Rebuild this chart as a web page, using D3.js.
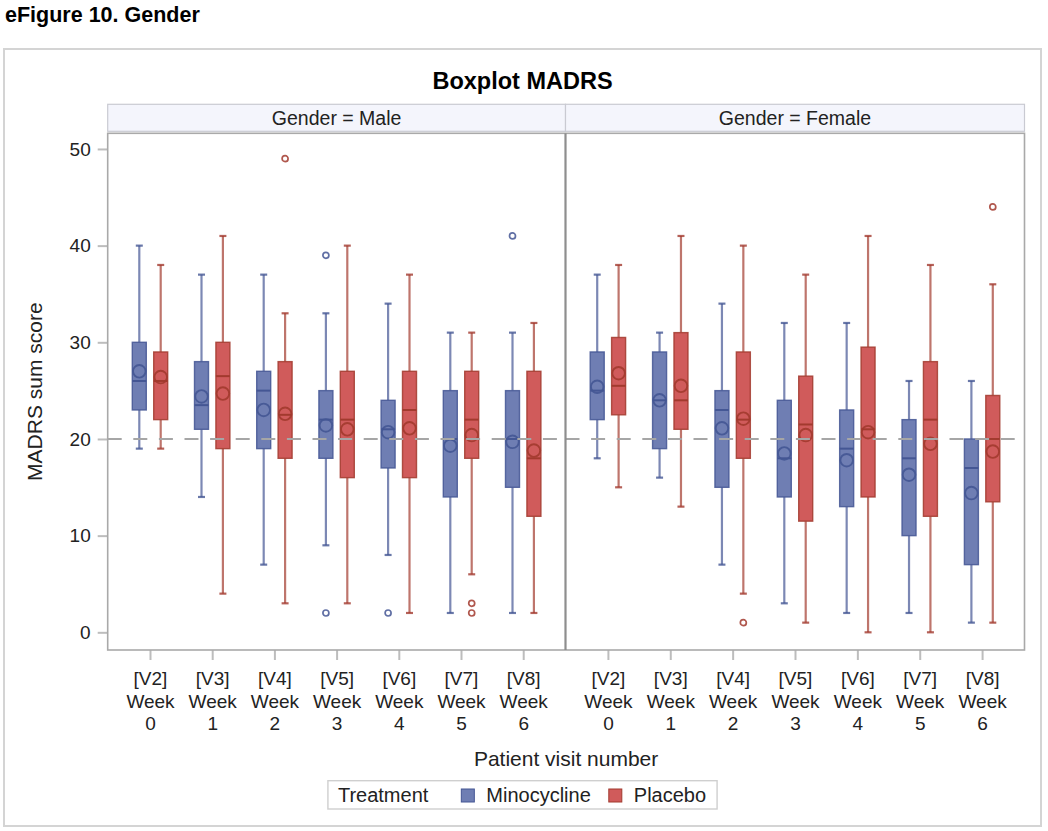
<!DOCTYPE html>
<html>
<head>
<meta charset="utf-8">
<script src="https://cdn.jsdelivr.net/npm/d3@7"></script>
<style>
  body { margin: 0; background: #fff; }
  text { font-family: "Liberation Sans", Arial, sans-serif; fill: #222; }
</style>
</head>
<body>
<svg id="chart" width="1048" height="831"></svg>
<script>
  // visits on the x axis (three label lines each)
  const visitCodes = ['[V2]', '[V3]', '[V4]', '[V5]', '[V6]', '[V7]', '[V8]'];
  const weekNumbers = ['0', '1', '2', '3', '4', '5', '6'];
  const genders = ['Male', 'Female'];
  const treatments = ['Minocycline', 'Placebo'];
  const yTicks = [0, 10, 20, 30, 40, 50];
  const refValue = 20;

  // one row per visit: [whisker low, Q1, median, Q3, whisker high, mean]
  const maleMinocycline = [
    [19, 23, 26, 30, 40, 27.0],
    [14, 21, 23.5, 28, 37, 24.4],
    [7, 19, 25, 27, 37, 23.0],
    [9, 18, 22, 25, 33, 21.4],
    [8, 17, 21, 24, 34, 20.7],
    [2, 14, 20, 25, 31, 19.3],
    [2, 15, 20, 25, 31, 19.7]
  ];
  const malePlacebo = [
    [19, 22, 26, 29, 38, 26.4],
    [4, 19, 26.5, 30, 41, 24.7],
    [3, 18, 22.5, 28, 33, 22.6],
    [3, 16, 22, 27, 40, 21.0],
    [2, 16, 23, 27, 37, 21.1],
    [6, 18, 22, 27, 31, 20.4],
    [2, 12, 18, 27, 32, 18.8]
  ];
  const femaleMinocycline = [
    [18, 22, 25, 29, 37, 25.4],
    [16, 19, 24, 29, 31, 24.0],
    [7, 15, 23, 25, 34, 21.1],
    [3, 14, 18, 24, 32, 18.5],
    [2, 13, 19, 23, 32, 17.8],
    [2, 10, 18, 22, 26, 16.3],
    [1, 7, 17, 20, 26, 14.4]
  ];
  const femalePlacebo = [
    [15, 22.5, 25.5, 30.5, 38, 26.8],
    [13, 21, 24, 31, 41, 25.5],
    [4, 18, 22, 29, 40, 22.1],
    [1, 11.5, 21.5, 26.5, 37, 20.4],
    [0, 14, 21, 29.5, 41, 20.7],
    [0, 12, 22, 28, 38, 19.5],
    [1, 13.5, 20, 24.5, 36, 18.7]
  ];

  // outliers per visit
  const maleMinocyclineOutliers = [[], [], [], [39, 2], [2], [], [41]];
  const malePlaceboOutliers = [[], [], [49], [], [], [3, 2], []];
  const femaleMinocyclineOutliers = [[], [], [], [], [], [], []];
  const femalePlaceboOutliers = [[], [], [1], [], [], [], [44]];

  const fillColors = ['#6F7EB3', '#D05B5B'];
  const lineColors = ['#445694', '#A23A2E'];

  const panels = [
    { gender: 'Male', series: [
      { stats: maleMinocycline, outliers: maleMinocyclineOutliers },
      { stats: malePlacebo, outliers: malePlaceboOutliers }
    ] },
    { gender: 'Female', series: [
      { stats: femaleMinocycline, outliers: femaleMinocyclineOutliers },
      { stats: femalePlacebo, outliers: femalePlaceboOutliers }
    ] }
  ];

  const svg = d3.select('#chart');

  // layout
  const plotLeft = 107.7, plotRight = 1024.5, divider = 565.5;
  const plotTop = 133.3, plotBottom = 650;
  const stripTop = 104.3;
  const frame = { x: 4, y: 49, w: 1037, h: 777 };
  const frameMid = frame.x + frame.w / 2;

  const panelRanges = [[plotLeft, divider], [divider, plotRight]];

  const y = d3.scaleLinear()
    .domain([-1.83, 51.62])
    .range([plotBottom, plotTop]);

  const offset = d3.scalePoint()
    .domain(treatments)
    .range([-10.7, 10.7]);

  const boxW = 14, capW = 7;

  // outer frame
  svg.append('rect')
    .attr('x', frame.x).attr('y', frame.y)
    .attr('width', frame.w).attr('height', frame.h)
    .attr('fill', '#fff').attr('stroke', '#d4d4d4').attr('stroke-width', 2);

  svg.append('text')
    .attr('x', 5).attr('y', 22)
    .style('font-weight', 'bold').style('font-size', '21.5px')
    .style('fill', '#000')
    .text('eFigure 10. Gender');

  svg.append('text')
    .attr('x', frameMid).attr('y', 89)
    .attr('text-anchor', 'middle')
    .style('font-weight', 'bold').style('font-size', '23.5px')
    .style('fill', '#000')
    .text('Boxplot MADRS');

  panels.forEach((panel, pi) => {
    const [x0, x1] = panelRanges[pi];
    const x = d3.scalePoint()
      .domain(visitCodes)
      .range([x0, x1])
      .padding(0.68);

    // strip header
    svg.append('rect')
      .attr('x', x0).attr('y', stripTop)
      .attr('width', x1 - x0).attr('height', plotTop - stripTop - 2)
      .attr('fill', '#F4F5FC').attr('stroke', '#c9cad2').attr('stroke-width', 1.2);
    svg.append('text')
      .attr('x', (x0 + x1) / 2).attr('y', 125)
      .attr('text-anchor', 'middle')
      .style('font-size', '19.5px')
      .text(`Gender = ${panel.gender}`);

    const g = svg.append('g');

    panel.series.forEach((s, si) => {
      const fill = fillColors[si], line = lineColors[si];
      const dx = offset(treatments[si]);

      const box = g.selectAll(null)
        .data(s.stats.map((d, i) => ({ visit: visitCodes[i], lo: d[0], q1: d[1], med: d[2], q3: d[3], hi: d[4], mean: d[5], out: s.outliers[i] })))
        .join('g')
        .attr('transform', d => `translate(${x(d.visit) + dx},0)`);

      // whiskers
      box.append('line')
        .attr('x1', 0).attr('x2', 0)
        .attr('y1', d => y(d.hi)).attr('y2', d => y(d.q3))
        .attr('stroke', line).attr('stroke-opacity', 0.7).attr('stroke-width', 2.2);
      box.append('line')
        .attr('x1', 0).attr('x2', 0)
        .attr('y1', d => y(d.q1)).attr('y2', d => y(d.lo))
        .attr('stroke', line).attr('stroke-opacity', 0.7).attr('stroke-width', 2.2);
      box.append('line')
        .attr('x1', -capW / 2).attr('x2', capW / 2)
        .attr('y1', d => y(d.hi)).attr('y2', d => y(d.hi))
        .attr('stroke', line).attr('stroke-opacity', 0.8).attr('stroke-width', 2.2);
      box.append('line')
        .attr('x1', -capW / 2).attr('x2', capW / 2)
        .attr('y1', d => y(d.lo)).attr('y2', d => y(d.lo))
        .attr('stroke', line).attr('stroke-opacity', 0.8).attr('stroke-width', 2.2);

      // box
      box.append('rect')
        .attr('x', -boxW / 2).attr('width', boxW)
        .attr('y', d => y(d.q3))
        .attr('height', d => y(d.q1) - y(d.q3))
        .attr('fill', fill)
        .attr('stroke', line).attr('stroke-opacity', 0.85).attr('stroke-width', 1.4);

      // median
      box.append('line')
        .attr('x1', -boxW / 2).attr('x2', boxW / 2)
        .attr('y1', d => y(d.med)).attr('y2', d => y(d.med))
        .attr('stroke', line).attr('stroke-width', 2);

      // mean
      box.append('circle')
        .attr('cx', 0).attr('cy', d => y(d.mean))
        .attr('r', 6.3)
        .attr('fill', 'none')
        .attr('stroke', line).attr('stroke-opacity', 0.9).attr('stroke-width', 1.9);

      // outliers
      box.selectAll('.outlier')
        .data(d => d.out)
        .join('circle')
        .attr('class', 'outlier')
        .attr('cx', 0).attr('cy', v => y(v))
        .attr('r', 3)
        .attr('fill', '#fff')
        .attr('stroke', line).attr('stroke-opacity', 0.85).attr('stroke-width', 1.7);
    });

    // reference line, drawn over the boxes
    g.append('line')
      .attr('x1', x0).attr('x2', x1)
      .attr('y1', y(refValue)).attr('y2', y(refValue))
      .attr('stroke', '#a6a6a6').attr('stroke-width', 2)
      .attr('stroke-dasharray', '14,11.6');

    // x axis with three-line labels
    const xAxis = svg.append('g')
      .attr('transform', `translate(0,${plotBottom})`)
      .call(d3.axisBottom(x).tickSize(10).tickSizeOuter(0));
    xAxis.select('.domain').remove();
    xAxis.selectAll('.tick line').attr('stroke', '#bdbdbd').attr('stroke-width', 2);
    xAxis.selectAll('.tick text')
      .attr('y', 35).attr('dy', null)
      .style('font-size', '19px')
      .each(function (d, i) {
        const t = d3.select(this).text(null);
        [d, 'Week', weekNumbers[i]].forEach((l, k) => {
          t.append('tspan')
            .attr('x', 0)
            .attr('dy', k ? 22.5 : 0)
            .text(l);
        });
      });
  });

  // y axis
  const yAxis = svg.append('g')
    .attr('transform', `translate(${plotLeft},0)`)
    .call(d3.axisLeft(y).tickValues(yTicks).tickSize(10).tickPadding(7));
  yAxis.select('.domain').remove();
  yAxis.selectAll('.tick line').attr('stroke', '#bdbdbd').attr('stroke-width', 2);
  yAxis.selectAll('.tick text').style('font-size', '19px');

  // plot borders
  svg.append('rect')
    .attr('x', plotLeft).attr('y', plotTop)
    .attr('width', plotRight - plotLeft).attr('height', plotBottom - plotTop)
    .attr('fill', 'none').attr('stroke', '#a9a9a9').attr('stroke-width', 1.6);
  svg.append('line')
    .attr('x1', divider).attr('x2', divider)
    .attr('y1', plotTop).attr('y2', plotBottom)
    .attr('stroke', '#8e8e8e').attr('stroke-width', 2.2);

  // axis titles
  svg.append('text')
    .attr('transform', `translate(42,${(plotTop + plotBottom) / 2}) rotate(-90)`)
    .attr('text-anchor', 'middle')
    .style('font-size', '21px')
    .text('MADRS sum score');

  svg.append('text')
    .attr('x', (plotLeft + plotRight) / 2).attr('y', 766)
    .attr('text-anchor', 'middle')
    .style('font-size', '21px')
    .text('Patient visit number');

  // legend
  const legend = svg.append('g');
  const legendBox = legend.append('rect')
    .attr('y', 780.7).attr('height', 28.3)
    .attr('fill', '#fff').attr('stroke', '#cfcfcf').attr('stroke-width', 1.4);
  const legendTitle = legend.append('text')
    .attr('y', 802).style('font-size', '20px')
    .text('Treatment');
  let cursor = legendTitle.node().getComputedTextLength() + 33;
  const itemX = [];
  treatments.forEach((t, i) => {
    const item = legend.append('g').attr('transform', `translate(${cursor},0)`);
    item.append('rect')
      .attr('x', 0).attr('y', 789).attr('width', 13).attr('height', 13)
      .attr('fill', fillColors[i]).attr('stroke', lineColors[i]).attr('stroke-width', 1);
    const label = item.append('text')
      .attr('x', 25).attr('y', 802).style('font-size', '20px')
      .text(t);
    itemX.push(cursor);
    cursor += 25 + label.node().getComputedTextLength() + 18;
  });
  const contentW = cursor - 18;
  const left = frameMid - (contentW + 21) / 2;
  legendBox.attr('x', left).attr('width', contentW + 21);
  legendTitle.attr('x', left + 10);
  legend.selectAll('g').attr('transform', (d, i) => `translate(${left + 10 + itemX[i]},0)`);
</script>
</body>
</html>
